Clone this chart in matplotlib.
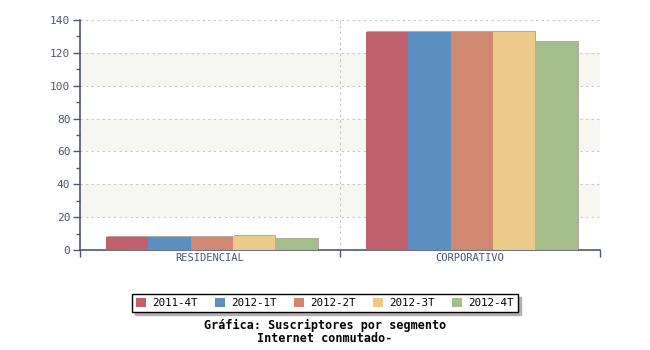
import numpy as np
import matplotlib
matplotlib.use("Agg")
import matplotlib.pyplot as plt

categorias = ["RESIDENCIAL", "CORPORATIVO"]
series = ["2011-4T", "2012-1T", "2012-2T", "2012-3T", "2012-4T"]
valores = {
    "2011-4T": [8.2, 133],
    "2012-1T": [8.2, 133],
    "2012-2T": [8.2, 133],
    "2012-3T": [8.4, 133],
    "2012-4T": [6.7, 126.5],
}
colores = ["#c0606a", "#5b8fc0", "#d08870", "#ecca8a", "#a5bd8a"]

plt.rcParams["font.family"] = "DejaVu Sans Mono"
eje = "#4a5878"

fig = plt.figure(figsize=(6.5, 3.5), dpi=100)
ax = fig.add_axes([80 / 650, 100 / 350, 520 / 650, 230 / 350])

# bandas alternas
for y0 in (20, 60, 100):
    ax.axhspan(y0, y0 + 20, color="#f6f6f2", zorder=0, lw=0)
for y in range(20, 141, 20):
    ax.axhline(y, color="#c8c8c8", ls=(0, (2, 3)), lw=0.8, zorder=1)
for x in (1, 2):
    ax.axvline(x, color="#c8c8c8", ls=(0, (2, 3)), lw=0.8, zorder=1)

x = np.arange(len(categorias)) + 0.5
ancho = 212 / 260 / len(series)
for i, (s, c) in enumerate(zip(series, colores)):
    pos = x - 212 / 260 / 2 + ancho * (i + 0.5) + 0.007
    # sombra
    ax.bar(pos + 0.004, np.array(valores[s]) + 0.6, ancho, color="#b0aaa0",
           zorder=2, lw=0)
    ax.bar(pos, valores[s], ancho, color=c, zorder=3, lw=0, label=s)

ax.set_xlim(0, 2)
ax.set_ylim(0, 140)
ax.set_yticks(range(0, 141, 20))
ax.set_yticks(range(0, 141, 10), minor=True)
ax.set_xticks([0, 1, 2])
ax.set_xticklabels([])
ax.set_xticks(x, minor=True)
ax.set_xticklabels(categorias, minor=True)
ax.tick_params(axis="x", which="minor", length=0, pad=2, labelsize=7.5,
               labelcolor=eje)
ax.tick_params(axis="x", which="major", length=5, direction="out",
               color=eje, width=1)
ax.tick_params(axis="y", which="major", length=5, color=eje, width=1,
               labelsize=8, labelcolor=eje, pad=2)
ax.tick_params(axis="y", which="minor", length=3, color=eje, width=1)
for lado in ("top", "right"):
    ax.spines[lado].set_visible(False)
for lado in ("left", "bottom"):
    ax.spines[lado].set_color(eje)
    ax.spines[lado].set_linewidth(1.2)

leg = fig.legend(loc="center", bbox_to_anchor=(325 / 650, 47 / 350), ncol=5,
                 frameon=True, fancybox=False, shadow={"color": "#b0b0b0", "alpha": 1},
                 edgecolor="black", fontsize=7.8, handlelength=0.9,
                 handleheight=0.9, columnspacing=1.6, handletextpad=0.6,
                 borderpad=0.35, borderaxespad=0)
leg.get_frame().set_linewidth(1)

fig.text(0.5, 25 / 350, "Gráfica: Suscriptores por segmento", ha="center",
         va="center", fontsize=8.5, fontweight="bold")
fig.text(0.5, 11 / 350, "Internet conmutado-", ha="center", va="center",
         fontsize=8.5, fontweight="bold")

fig.savefig("out.png", dpi=100)
